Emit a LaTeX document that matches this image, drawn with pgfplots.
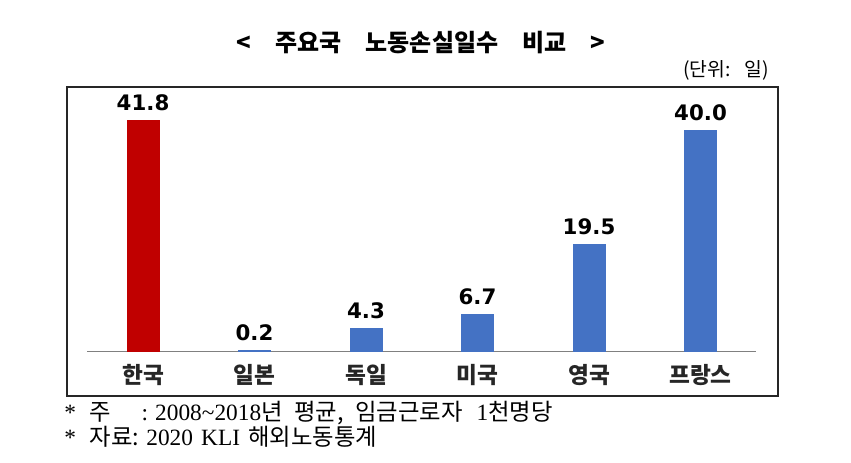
\documentclass[border=0pt]{standalone}
\usepackage{fontspec}
\usepackage{pgfplots}
\pgfplotsset{compat=1.18}
\setmainfont{Liberation Serif}
\newfontfamily\kr{Noto Sans CJK KR}
\newfontfamily\dv{DejaVu Sans}
\definecolor{kred}{HTML}{C00000}
\definecolor{kblue}{HTML}{4472C4}
\begin{document}
\begin{tikzpicture}[x=0.75pt,y=0.75pt]
\path[use as bounding box] (0,0) rectangle (851,462);
% axis box: x 67..778 px, y(img) 87..396 px  (1px = 0.75pt)
\begin{axis}[
  at={(50.25pt,281.25pt)}, anchor=north west, scale only axis,
  width=533.25pt, height=231.75pt,
  xmin=-0.682, xmax=5.695, ymin=-7.96, ymax=47.9,
  ytick=\empty, xtick={0,...,5},
  xticklabels={한국,일본,독일,미국,영국,프랑스},
  xticklabel style={font=\kr\bfseries\fontsize{17}{17}\selectfont, text=black!85,
    anchor=base, yshift=9pt},
  major tick length=0pt,
  axis line style={line width=1.2pt, black!85},
  ybar, bar width=24pt, bar shift=0pt,
  /pgf/number format/assume math mode=true,
  nodes near coords,
  nodes near coords style={font=\dv\bfseries\fontsize{16}{16}\selectfont, anchor=base,
    inner sep=0pt, yshift=7.5pt, text=black,
    /pgf/number format/.cd, fixed, zerofill, precision=1},
]
\draw[gray, line width=0.75pt] (axis cs:-0.5,0) -- (axis cs:5.5,0);
\addplot[fill=kred, draw=kred, line width=0.75pt] coordinates {(0,41.8)};
\addplot[fill=kblue, draw=kblue, line width=0.75pt] coordinates {(1,0.2) (2,4.3) (3,6.7) (4,19.5) (5,40.0)};
\end{axis}
\node[font=\kr\bfseries\fontsize{18}{18}\selectfont] at (421,419)
  {<\hspace{1em}주요국\hspace{1em}노동손실일수\hspace{1em}비교\hspace{1em}>};
\node[font=\kr\fontsize{14.5}{14.5}\selectfont] at (726,392) {(단위:\hspace{0.7em}일)};
\node[anchor=west, font=\fontsize{17.5}{17.5}\selectfont, inner sep=0pt] at (64,49)
  {*\hspace{0.6em}{\kr 주}\hspace{1.3em}:\hspace{0.3em}2008\textasciitilde 2018{\kr 년}\hspace{0.5em}{\kr 평균,}\hspace{0.5em}{\kr 임금근로자}\hspace{0.6em}1{\kr 천명당}};
\node[anchor=west, font=\fontsize{17.5}{17.5}\selectfont, inner sep=0pt] at (64,25)
  {*\hspace{0.6em}{\kr 자료:}\hspace{0.3em}2020\hspace{0.35em}KLI\hspace{0.35em}{\kr 해외노동통계}};
\end{tikzpicture}
\end{document}
